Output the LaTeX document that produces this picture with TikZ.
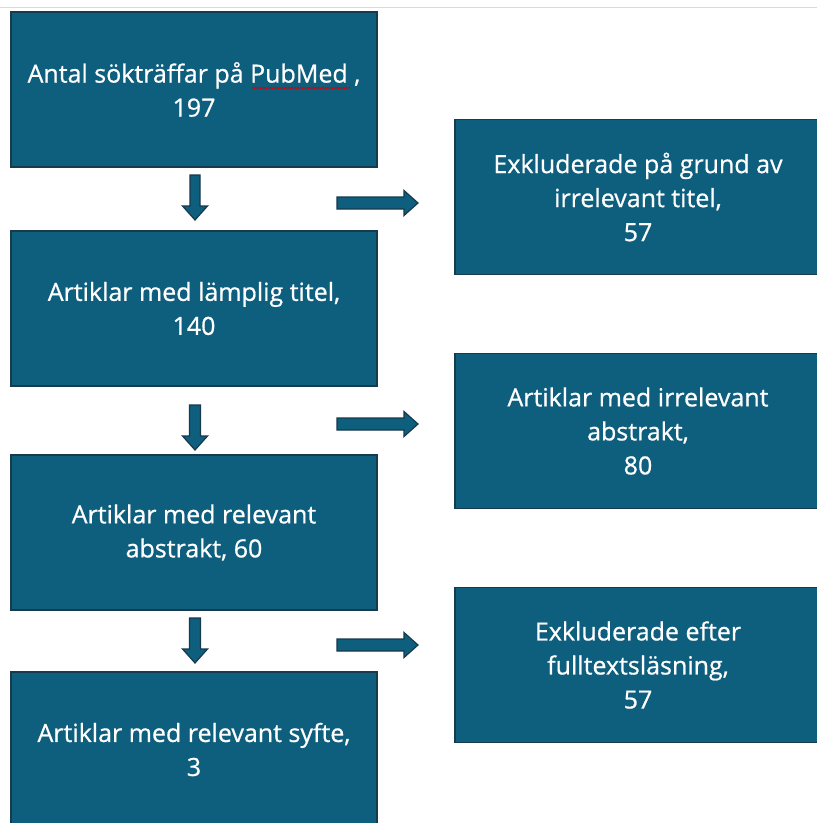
\documentclass[tikz,border=0pt]{standalone}
\usepackage{fontspec}
\setmainfont{Open Sans}[FakeBold=0.7]
\usetikzlibrary{decorations.pathmorphing}
\definecolor{boxfill}{HTML}{0E5E7E}
\definecolor{boxline}{HTML}{173A4C}
\tikzset{
  box/.style={draw=boxline, line width=1.6pt, fill=boxfill, minimum width=366pt, minimum height=155pt,
    inner sep=0pt, text=white, align=center, font=\fontsize{25}{34}\selectfont},
  barrow/.style={draw=boxline, line width=1.2pt, fill=boxfill, line join=miter}
}
\newcommand\blockarr[4]{% start, angle, length, shaft half width
  \draw[barrow,shift={#1},rotate=#2] (0,-#4) -- ({#3-14},-#4) -- ({#3-14},-12.5) -- (#3,0)
    -- ({#3-14},12.5) -- ({#3-14},#4) -- (0,#4) -- cycle;}
\begin{document}
\begin{tikzpicture}[x=1pt,y=-1pt]
\useasboundingbox (0,0) rectangle (817,823);
\clip (0,0) rectangle (817,823);
\fill[white] (0,0) rectangle (817,823);
\draw[black!15, line width=1pt] (0,7) -- (817,7);
\node[box] (l1) at (194,89.5) {Antal sökträffar på PubMed ,\\197};
\node[box] (l2) at (194,308.5) {Artiklar med lämplig titel,\\140};
\node[box] (l3) at (194,532.5) {Artiklar med relevant\\abstrakt, 60};
\node[box] (l4) at (194,749.5) {Artiklar med relevant syfte,\\3};
\node[box] (r1) at (638,197) {Exkluderade på grund av\\irrelevant titel,\\57};
\node[box] (r2) at (638,431) {Artiklar med irrelevant\\abstrakt,\\80};
\node[box] (r3) at (638,665) {Exkluderade efter\\fulltextsläsning,\\57};
\draw[red!85!black, line width=0.7pt, decorate, decoration={snake, amplitude=0.9pt, segment length=3pt}] (252,88) -- (350,88);
% down arrows
\blockarr{(195,175)}{-90}{45}{5}
\blockarr{(195,405)}{-90}{45}{5.5}
\blockarr{(195,618)}{-90}{45}{5.5}
% right arrows
\blockarr{(337,203)}{0}{81}{6}
\blockarr{(337,424)}{0}{81}{6}
\blockarr{(337,645)}{0}{81}{6}
\end{tikzpicture}
\end{document}
